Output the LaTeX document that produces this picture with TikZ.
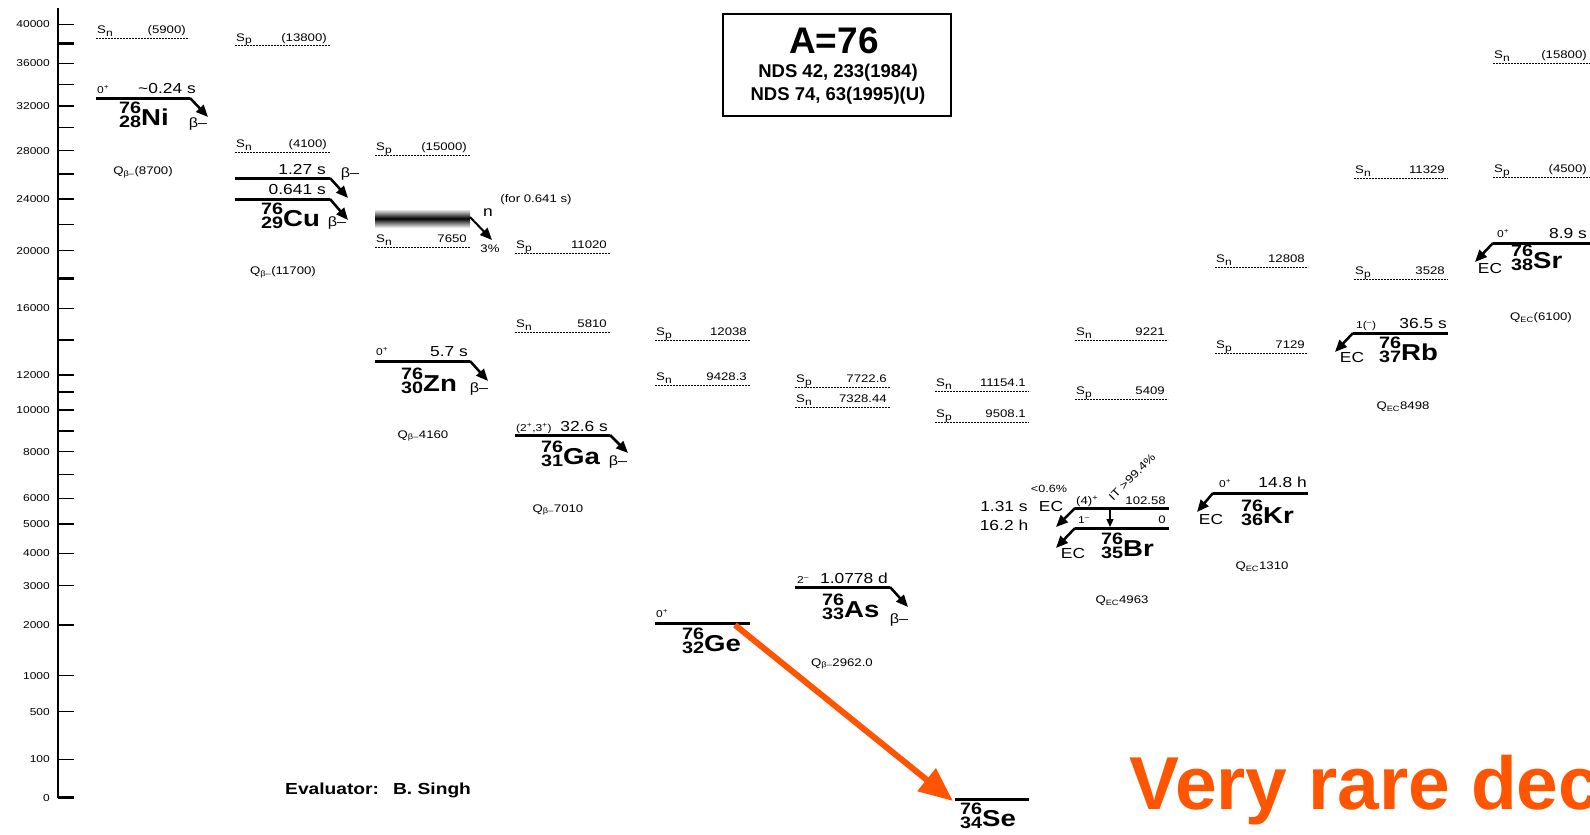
\documentclass[tikz,border=0pt]{standalone}
\usepackage{fontspec}
\setmainfont{Liberation Sans}
\newfontfamily\chartfont{Liberation Sans}[FakeStretch=1.2]
\usetikzlibrary{arrows.meta}
\definecolor{orng}{RGB}{255,85,0}
\newcommand{\nucl}[3]{\bfseries\raisebox{-2.5pt}{\fontsize{16.5}{16.5}\selectfont\renewcommand{\arraystretch}{0.5}\begin{tabular}[b]{@{}r@{}}#1\\#2\end{tabular}}\fontsize{23}{23}\selectfont #3}
\newcommand{\SN}{S\raisebox{-2.5pt}{\fontsize{10}{10}\selectfont n}}
\newcommand{\SP}{S\raisebox{-2.5pt}{\fontsize{10}{10}\selectfont p}}
\newcommand{\sepline}[6]{%
  \draw[sepl] (#2,#4) -- (#3,#4);
  \node[sm,anchor=base west] (#1L) at (#2+1,#4-4.5) {#5};
  \node[sm,anchor=base east] (#1V) at (#3-3,#4-4.5) {#6};}
\begin{document}
\begin{tikzpicture}[x=1pt,y=-1pt,
  lev/.style={line width=3pt},
  dec/.style={line width=2.5pt,-{Triangle[length=12pt,width=10pt]}},
  sepl/.style={line width=1pt,dash pattern=on 2pt off 1pt},
  sm/.style={inner sep=0pt,font=\chartfont\fontsize{11}{11}\selectfont},
  spin/.style={inner sep=0pt,font=\chartfont\fontsize{10}{10}\selectfont},
  hl/.style={inner sep=0pt,font=\chartfont\fontsize{14.5}{14.5}\selectfont},
  bl/.style={inner sep=0pt,font=\chartfont\fontsize{13.5}{13.5}\selectfont},
  qv/.style={inner sep=0pt,font=\chartfont\fontsize{11}{11}\selectfont},
  nuc/.style={inner sep=0pt,anchor=base west,font=\chartfont},
  ax/.style={inner sep=0pt,font=\chartfont\fontsize{10}{10}\selectfont},
  tick/.style={line width=1.2pt},
  tickb/.style={line width=2.5pt}]
\useasboundingbox (0,0) rectangle (1590,835);
\fill[white] (0,0) rectangle (1590,835);

% axis
\coordinate (axT) at (58,8); \coordinate (axB) at (58,798);
\draw[line width=1.5pt] (axT) -- (axB);
\foreach \v/\yy in {40000/24.3,36000/63.3,32000/106,28000/150.7,24000/199,20000/250.7,16000/308.3,12000/375,10000/410,8000/451.7,6000/498.3,5000/524,4000/553.3,3000/585.7,2000/625,1000/675.7,500/711.7,100/759.3,0/797.7}{
  \draw[tick] (58,\yy) -- (74,\yy);
  \node[ax,anchor=east] (tk\v) at (50,\yy) {\v};}
\foreach \yy in {84.3,127.7,174,224.3,340,392,431,474.3}{\draw[tick] (58,\yy) -- (74,\yy);}
\foreach \yy in {43.7,199,278.3,375,410,797.7}{\draw[tickb] (58,\yy) -- (74,\yy);}

% separation energies
\sepline{niSn}{96}{189}{38}{\SN}{(5900)}
\sepline{cuSp}{235}{330}{45.5}{\SP}{(13800)}
\sepline{cuSn}{235}{330}{152}{\SN}{(4100)}
\sepline{znSp}{375}{470}{155}{\SP}{(15000)}
\sepline{znSn}{375}{470}{247}{\SN}{7650}
\sepline{gaSp}{515}{610}{253}{\SP}{11020}
\sepline{gaSn}{515}{610}{332}{\SN}{5810}
\sepline{geSp}{655}{750}{340}{\SP}{12038}
\sepline{geSn}{655}{750}{385}{\SN}{9428.3}
\sepline{asSp}{795}{890}{387}{\SP}{7722.6}
\sepline{asSn}{795}{890}{407}{\SN}{7328.44}
\sepline{seSn}{935}{1029}{391}{\SN}{11154.1}
\sepline{seSp}{935}{1029}{422}{\SP}{9508.1}
\sepline{brSn}{1075}{1168}{340}{\SN}{9221}
\sepline{brSp}{1075}{1168}{399}{\SP}{5409}
\sepline{krSn}{1215}{1308}{267}{\SN}{12808}
\sepline{krSp}{1215}{1308}{353}{\SP}{7129}
\sepline{rbSn}{1354}{1448}{178}{\SN}{11329}
\sepline{rbSp}{1354}{1448}{279}{\SP}{3528}
\sepline{srSn}{1493}{1590}{63}{\SN}{(15800)}
\sepline{srSp}{1493}{1590}{177}{\SP}{(4500)}

% Ni
\coordinate (ni0) at (96,98); \coordinate (ni1) at (190,98); \coordinate (niT) at (208,117);
\draw[lev] (ni0) -- (ni1); \draw[dec] (ni1) -- (niT);
\node[spin,anchor=base west] (niS) at (97,93) {0\textsuperscript{+}};
\node[hl,anchor=base east] (niH) at (196,93) {\textasciitilde0.24 s};
\node[bl] (niB) at (198,124) {β–};
\node[nuc] (niN) at (119,125) {\nucl{76}{28}{Ni}};
\node[qv] (niQ) at (143,172) {Q\textsubscript{β–}(8700)};

% Cu
\coordinate (cuA0) at (235,178); \coordinate (cuA1) at (330,178); \coordinate (cuAT) at (348,198);
\coordinate (cuB0) at (235,199); \coordinate (cuB1) at (330,199); \coordinate (cuBT) at (348,220);
\draw[lev] (cuA0) -- (cuA1); \draw[dec] (cuA1) -- (cuAT);
\draw[lev] (cuB0) -- (cuB1); \draw[dec] (cuB1) -- (cuBT);
\node[hl,anchor=base east] (cuH1) at (326,174) {1.27 s};
\node[bl] (cuB1l) at (350,174) {β–};
\node[hl,anchor=base east] (cuH2) at (326,194) {0.641 s};
\node[bl] (cuB2l) at (337,223) {β–};
\node[nuc] (cuN) at (261,226) {\nucl{76}{29}{Cu}};
\node[qv] (cuQ) at (283,272) {Q\textsubscript{β–}(11700)};

% neutron band
\shade[top color=white,bottom color=white,middle color=black] (375,209) rectangle (470,228);
\coordinate (bandR) at (470,217); \coordinate (bandT) at (492,240);
\draw[dec,line width=2pt] (bandR) -- (bandT);
\node[sm] (forl) at (536,200) {(for 0.641 s)};
\node[hl] (nl) at (488,213) {n};
\node[sm] (pct) at (490,249) {3\%};

% Zn
\coordinate (zn0) at (375,361); \coordinate (zn1) at (470,361); \coordinate (znT) at (488,381);
\draw[lev] (zn0) -- (zn1); \draw[dec] (zn1) -- (znT);
\node[spin,anchor=base west] (znS) at (376,355) {0\textsuperscript{+}};
\node[hl,anchor=base east] (znH) at (468,356) {5.7 s};
\node[bl] (znB) at (479,389) {β–};
\node[nuc] (znN) at (401,391) {\nucl{76}{30}{Zn}};
\node[qv] (znQ) at (423,436) {Q\textsubscript{β–}4160};

% Ga
\coordinate (ga0) at (515,435); \coordinate (ga1) at (610,435); \coordinate (gaT) at (628,453);
\draw[lev] (ga0) -- (ga1); \draw[dec] (ga1) -- (gaT);
\node[spin,anchor=base west] (gaS) at (516,431) {(2\textsuperscript{+},3\textsuperscript{+})};
\node[hl,anchor=base east] (gaH) at (608,431) {32.6 s};
\node[bl] (gaB) at (618,462) {β–};
\node[nuc] (gaN) at (541,464) {\nucl{76}{31}{Ga}};
\node[qv] (gaQ) at (558,510) {Q\textsubscript{β–}7010};

% Ge
\coordinate (ge0) at (655,623); \coordinate (ge1) at (750,623);
\draw[lev] (ge0) -- (ge1);
\node[spin,anchor=base west] (geS) at (656,617) {0\textsuperscript{+}};
\node[nuc] (geN) at (682,651) {\nucl{76}{32}{Ge}};

% As
\coordinate (as0) at (795,587); \coordinate (as1) at (890,587); \coordinate (asT) at (908,607);
\draw[lev] (as0) -- (as1); \draw[dec] (as1) -- (asT);
\node[spin,anchor=base west] (asS) at (797,583) {2\textsuperscript{–}};
\node[hl,anchor=base east] (asH) at (888,583) {1.0778 d};
\node[bl] (asB) at (899,620) {β–};
\node[nuc] (asN) at (822,617) {\nucl{76}{33}{As}};
\node[qv] (asQ) at (842,664) {Q\textsubscript{β–}2962.0};

% Se
\coordinate (se0) at (955,799); \coordinate (se1) at (1029,799);
\draw[lev] (se0) -- (se1);
\node[nuc] (seN) at (960,826) {\nucl{76}{34}{Se}};

% Br
\coordinate (brA0) at (1075,508); \coordinate (brA1) at (1169,508); \coordinate (brAT) at (1056,527);
\coordinate (brB0) at (1075,528); \coordinate (brB1) at (1169,528); \coordinate (brBT) at (1056,548);
\coordinate (itA) at (1110,509.5); \coordinate (itB) at (1110,527);
\draw[lev] (brA0) -- (brA1); \draw[dec] (brA0) -- (brAT);
\draw[lev] (brB0) -- (brB1); \draw[dec] (brB0) -- (brBT);
\draw[line width=1.3pt,-{Triangle[length=8pt,width=7pt]}] (itA) -- (itB);
\node[sm,anchor=base west] (brS1) at (1076,504) {(4)\textsuperscript{+}};
\node[sm,anchor=base east] (brE1) at (1166,504) {102.58};
\node[spin,anchor=base west] (brS2) at (1078,523) {1\textsuperscript{–}};
\node[sm,anchor=base east] (brE2) at (1166,523) {0};
\node[inner sep=0pt,font=\chartfont\fontsize{10.5}{10.5}\selectfont] (brLt) at (1049,489) {<0.6\%};
\node[inner sep=0pt,font=\chartfont\fontsize{11}{11}\selectfont,rotate=45] (brIT) at (1132,477) {IT >99.4\%};
\node[hl] (brEC1) at (1051,507) {EC};
\node[hl] (brH1) at (1004,507) {1.31 s};
\node[hl] (brH2) at (1004,525) {16.2 h};
\node[hl] (brEC2) at (1073,554) {EC};
\node[nuc] (brN) at (1101,556) {\nucl{76}{35}{Br}};
\node[qv] (brQ) at (1122,601) {Q\textsubscript{EC}4963};

% Kr
\coordinate (kr0) at (1213,493); \coordinate (kr1) at (1308,493); \coordinate (krT) at (1197,512);
\draw[lev] (kr0) -- (kr1); \draw[dec] (kr0) -- (krT);
\node[spin,anchor=base west] (krS) at (1219,487) {0\textsuperscript{+}};
\node[hl,anchor=base east] (krH) at (1307,487) {14.8 h};
\node[hl] (krEC) at (1211,520) {EC};
\node[nuc] (krN) at (1241,523) {\nucl{76}{36}{Kr}};
\node[qv] (krQ) at (1262,567) {Q\textsubscript{EC}1310};

% Rb
\coordinate (rb0) at (1353,333); \coordinate (rb1) at (1448,333); \coordinate (rbT) at (1335,352);
\draw[lev] (rb0) -- (rb1); \draw[dec] (rb0) -- (rbT);
\node[spin,anchor=base west] (rbS) at (1356,328) {1(\textsuperscript{–})};
\node[hl,anchor=base east] (rbH) at (1447,328) {36.5 s};
\node[hl] (rbEC) at (1352,358) {EC};
\node[nuc] (rbN) at (1379,360) {\nucl{76}{37}{Rb}};
\node[qv] (rbQ) at (1403,407) {Q\textsubscript{EC}8498};

% Sr
\coordinate (sr0) at (1493,243); \coordinate (sr1) at (1590,243); \coordinate (srT) at (1475,262);
\draw[lev] (sr0) -- (sr1); \draw[dec] (sr0) -- (srT);
\node[spin,anchor=base west] (srS) at (1497,237) {0\textsuperscript{+}};
\node[hl,anchor=base east] (srH) at (1587,238) {8.9 s};
\node[hl] (srEC) at (1490,269) {EC};
\node[nuc] (srN) at (1511,268) {\nucl{76}{38}{Sr}};
\node[qv] (srQ) at (1541,318) {Q\textsubscript{EC}(6100)};

% title box
\node[draw,line width=2pt,minimum width=228pt,minimum height=102pt,inner sep=0pt] (tbox) at (837,65) {};
\node[inner sep=0pt,font=\bfseries\fontsize{37}{37}\selectfont] (tA) at (834,41) {A=76};
\node[inner sep=0pt,font=\bfseries\fontsize{18.5}{18.5}\selectfont] (tN1) at (838,73) {NDS 42, 233(1984)};
\node[inner sep=0pt,font=\bfseries\fontsize{18.5}{18.5}\selectfont] (tN2) at (838,96) {NDS 74, 63(1995)(U)};

% evaluator
\node[inner sep=0pt,anchor=base west,font=\chartfont\bfseries\fontsize{16}{16}\selectfont] (evl) at (285,794) {Evaluator:\hspace{14pt}B. Singh};

% orange arrow and text
\coordinate (geX) at (735,625); \coordinate (seX) at (953,801);
\draw[orng,line width=6pt,-{Triangle[length=34pt,width=28pt]}] (geX) -- (seX);
\begin{scope}
\clip (0,0) rectangle (1590,835);
\node[inner sep=0pt,anchor=base west,text=orng,font=\bfseries\fontsize{75}{75}\selectfont] (rare) at (1129,809) {Very rare decay};
\end{scope}
\end{tikzpicture}
\end{document}
